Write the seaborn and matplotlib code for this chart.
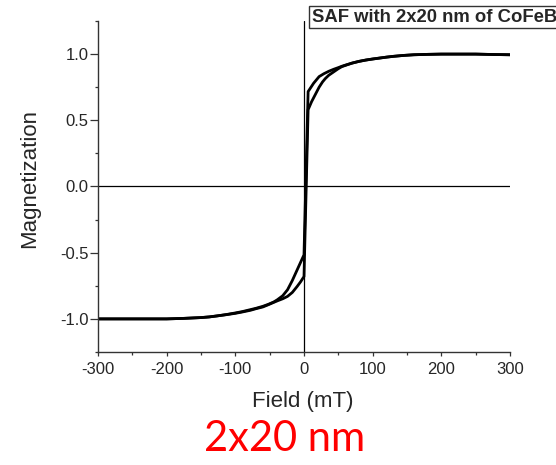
import numpy as np
import pandas as pd
import matplotlib
matplotlib.use("Agg")
import matplotlib.pyplot as plt
import seaborn as sns
from matplotlib.ticker import MultipleLocator

# Descending branch (field from +300 to -300 mT)
desc_field = [300, 275, 250, 225, 200, 180, 160, 145, 130, 120, 110, 100, 90, 80, 70, 61, 55, 50,
              43, 36, 29, 22, 14, 6,
              0, -5, -10, -17, -24, -31, -39, -44, -52, -60, -70, -78, -90, -100, -113, -126,
              -138, -150, -175, -200, -250, -300]
desc_mag = [0.995, 0.997, 1.0, 1.0, 1.0, 0.998, 0.995, 0.99, 0.983, 0.977, 0.97, 0.963, 0.955,
            0.945, 0.932, 0.918, 0.908, 0.898, 0.885, 0.87, 0.852, 0.83, 0.78, 0.717,
            -0.516, -0.573, -0.63, -0.71, -0.78, -0.825, -0.856, -0.872, -0.89, -0.905, -0.92,
            -0.93, -0.945, -0.955, -0.967, -0.977, -0.985, -0.99, -0.996, -1.0, -1.0, -1.0]

# Ascending branch (field from -300 to +300 mT)
asc_field = [-300, -250, -200, -175, -150, -138, -126, -113, -100, -90, -78, -70, -60, -52,
             -44, -38, -31, -24, -17, -10, -5, 0,
             6, 11, 17, 22, 27, 31, 36, 43, 50, 55, 61, 70, 80, 90, 100, 110, 120, 130, 145,
             160, 180, 200, 225, 250, 275, 300]
asc_mag = [-1.0, -1.0, -1.0, -0.996, -0.99, -0.985, -0.977, -0.968, -0.958, -0.948, -0.935,
           -0.923, -0.91, -0.893, -0.875, -0.862, -0.848, -0.83, -0.80, -0.755, -0.72, -0.68,
           0.58, 0.64, 0.70, 0.75, 0.79, 0.815, 0.84, 0.865, 0.89, 0.905, 0.916, 0.932, 0.945,
           0.955, 0.963, 0.97, 0.977, 0.983, 0.99, 0.995, 0.998, 1.0, 1.0, 1.0, 0.997, 0.995]

x_ticks = [-300, -200, -100, 0, 100, 200, 300]
y_ticks = [-1.0, -0.5, 0.0, 0.5, 1.0]

title_text = "SAF with 2x20 nm of CoFeB"
x_label = "Field (mT)"
y_label = "Magnetization"
caption = "2x20 nm"

sns.set_style("ticks")
plt.rcParams['font.family'] = ['Liberation Sans', 'DejaVu Sans']

df_desc = pd.DataFrame({"field": desc_field, "mag": desc_mag})
df_asc = pd.DataFrame({"field": asc_field, "mag": asc_mag})

fig = plt.figure(figsize=(5.56, 4.65), dpi=100)
ax = fig.add_axes([98/556, 113/465, 412/556, 331/465])

ax.axhline(0, color="black", lw=0.9, zorder=1)
ax.axvline(0, color="black", lw=0.9, zorder=1)

sns.lineplot(data=df_desc, x="field", y="mag", sort=False, estimator=None,
             color="black", lw=2.0, ax=ax)
sns.lineplot(data=df_asc, x="field", y="mag", sort=False, estimator=None,
             color="black", lw=2.0, ax=ax)

ax.set_xlim(-300, 300)
ax.set_ylim(-1.25, 1.25)
ax.set_xticks(x_ticks)
ax.set_xticklabels([f"{t:d}" for t in x_ticks])
ax.set_yticks(y_ticks)
ax.set_yticklabels([f"{t:.1f}" for t in y_ticks])
ax.xaxis.set_minor_locator(MultipleLocator(50))
ax.yaxis.set_minor_locator(MultipleLocator(0.25))

for s in ["top", "right"]:
    ax.spines[s].set_visible(False)
for s in ["left", "bottom"]:
    ax.spines[s].set_color("#333333")
    ax.spines[s].set_linewidth(1.0)

ax.tick_params(axis="y", which="major", direction="out", length=5.5, width=0.9,
               color="#333333", labelsize=12, pad=1.5)
ax.tick_params(axis="y", which="minor", direction="out", length=2.2, width=0.9, color="#333333")
ax.tick_params(axis="x", which="major", direction="out", length=2.8, width=0.9,
               color="#333333", labelsize=12, pad=4.5)
ax.tick_params(axis="x", which="minor", direction="out", length=2.0, width=0.9, color="#333333")

ax.set_xlabel(x_label, fontsize=16)
ax.set_ylabel(y_label, fontsize=16)
ax.xaxis.set_label_coords(0.497, -0.118)
ax.yaxis.set_label_coords(-0.14, 0.523)

fig.text(312/556, 1 - 17/465, title_text, fontsize=13.3, fontweight="bold",
         ha="left", va="center",
         bbox=dict(boxstyle="square,pad=0.15", fc="white", ec="#333333", lw=1.0))

fig.text(285/556, 1 - 439/465, caption, fontsize=30, color="red",
         family=["Lato", "DejaVu Sans"], ha="center", va="center")

fig.savefig("out.png", dpi=100)
